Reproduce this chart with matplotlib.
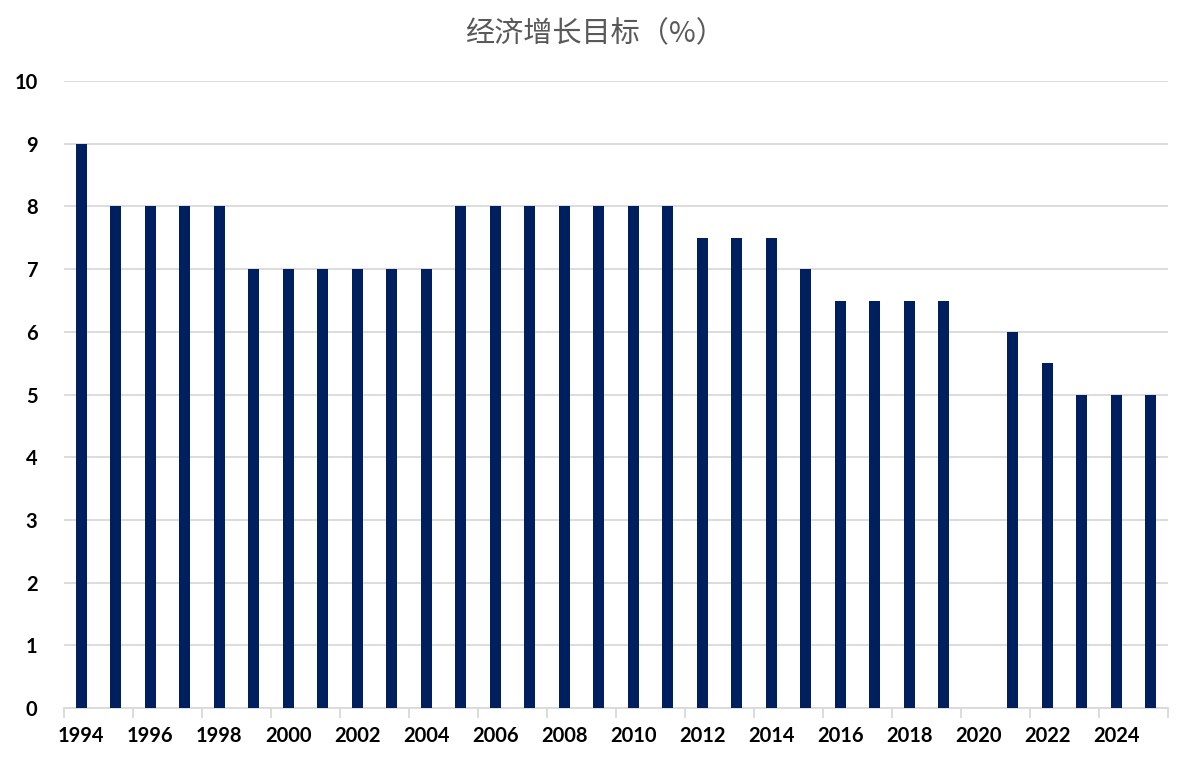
import numpy as np
import matplotlib.pyplot as plt

# 经济增长目标 (%), 2020年未设定目标
years = list(range(1994, 2026))
targets = [9, 8, 8, 8, 8, 7, 7, 7, 7, 7, 7,
           8, 8, 8, 8, 8, 8, 8,
           7.5, 7.5, 7.5, 7,
           6.5, 6.5, 6.5, 6.5,
           np.nan, 6, 5.5, 5, 5, 5]
title = '经济增长目标（%）'

plt.rcParams['font.family'] = ['Lato', 'DejaVu Sans']

fig = plt.figure(figsize=(11.91, 7.65), dpi=100)
ax = fig.add_axes([0.0537, 0.0745, 0.927, 0.8195])

x = np.arange(len(years))
ax.bar(x, targets, width=0.32, color='#001F5F', zorder=3)

ax.set_xlim(-0.5, len(years) - 0.5)
ax.set_ylim(0, 10)
ax.set_yticks(range(0, 11))
ax.yaxis.grid(True, color='#d9d9d9', linewidth=1.3, zorder=0)

ax.set_xticks(x[::2])
ax.set_xticklabels([str(y) for y in years[::2]])
ax.set_xticks(np.arange(-0.5, len(years), 2), minor=True)
ax.tick_params(axis='x', which='major', length=0, pad=13)
ax.tick_params(axis='x', which='minor', length=7, width=1.3, color='#d9d9d9')
ax.tick_params(axis='y', length=0, pad=19)
for lab in ax.get_xticklabels() + ax.get_yticklabels():
    lab.set_fontsize(14.5)
    lab.set_fontweight('bold')

for s in ['top', 'right', 'left']:
    ax.spines[s].set_visible(False)
ax.spines['bottom'].set_color('#d9d9d9')
ax.spines['bottom'].set_linewidth(1.3)

fig.text(0.5, 0.955, title, ha='center', va='center', fontsize=21,
         fontweight='medium', color='#595959',
         family=['Noto Sans CJK SC', 'DejaVu Sans'])

fig.savefig('out.png', dpi=100)
